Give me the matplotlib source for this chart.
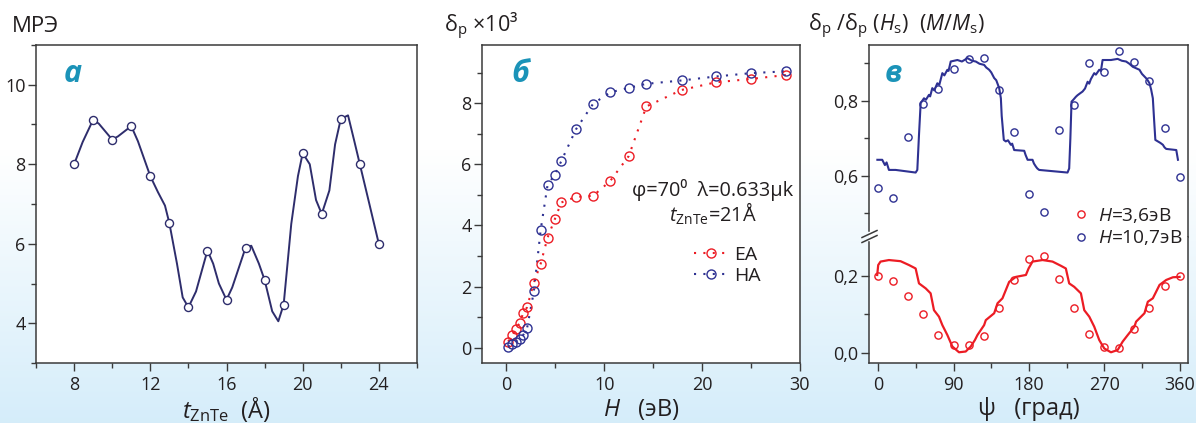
import numpy as np
import matplotlib
matplotlib.use('Agg')
import matplotlib.pyplot as plt
from matplotlib.lines import Line2D
from matplotlib.ticker import FixedLocator

plt.rcParams['font.family'] = ['Open Sans', 'DejaVu Sans']
plt.rcParams['mathtext.fontset'] = 'custom'
plt.rcParams['mathtext.rm'] = 'Open Sans'
plt.rcParams['mathtext.it'] = 'Open Sans:italic'
plt.rcParams['mathtext.bf'] = 'Open Sans:bold'

# ---------------- data ----------------
# panel a: MRE vs ZnTe thickness
a_t = [8, 9, 10, 11, 12, 13, 14, 15, 16, 17, 18, 19, 20, 21, 22, 23, 24]
a_mre = [8.0, 9.12, 8.62, 8.96, 7.70, 6.52, 4.40, 5.83, 4.59, 5.90, 5.09, 4.47,
         8.28, 6.75, 9.14, 8.0, 5.99]
a_line_t = [8, 8.45, 9, 9.3, 10, 10.3, 11, 11.35, 12, 12.4, 12.77, 13, 13.4, 13.7,
            14, 14.4, 15, 15.3, 15.6, 16, 16.3, 17, 17.3, 17.7, 18, 18.4, 18.72,
            19, 19.4, 19.75, 20, 20.37, 20.7, 21, 21.4, 21.7, 22, 22.38, 22.7, 23,
            23.5, 24]
a_line_mre = [8.0, 8.56, 9.12, 9.02, 8.62, 8.70, 8.96, 8.58, 7.70, 7.30, 6.96, 6.52,
              5.5, 4.65, 4.40, 4.80, 5.83, 5.50, 5.00, 4.59, 4.90, 5.90, 5.95, 5.50,
              5.09, 4.30, 4.05, 4.47, 6.5, 7.7, 8.28, 8.0, 7.1, 6.75, 7.34, 8.5,
              9.14, 9.23, 8.6, 8.0, 7.0, 5.99]

# panel b: delta_p x 10^3 vs H
b_H = [0.17, 0.6, 0.95, 1.36, 1.7, 2.1, 2.8, 3.5, 4.2, 4.94, 5.6, 7.1, 8.86,
       10.6, 12.5, 14.3, 17.9, 21.4, 25.0, 28.6]
b_EA = [0.20, 0.41, 0.60, 0.82, 1.12, 1.32, 2.13, 2.75, 3.60, 4.20, 4.75, 4.93,
        4.97, 5.45, 6.27, 7.89, 8.43, 8.68, 8.79, 8.92]
b_HA = [0.03, 0.11, 0.20, 0.27, 0.41, 0.63, 1.84, 3.86, 5.32, 5.66, 6.10, 7.14,
        7.98, 8.35, 8.50, 8.63, 8.74, 8.87, 8.98, 9.04]

# panel c: normalized delta_p vs psi
c_psi = [0, 18, 36, 54, 72, 90, 108, 126, 144, 162, 180, 198, 216, 234, 252,
         270, 288, 306, 324, 342, 360]
c_low = [0.200, 0.187, 0.149, 0.101, 0.045, 0.020, 0.020, 0.044, 0.116, 0.191,
         0.245, 0.252, 0.193, 0.116, 0.050, 0.016, 0.011, 0.061, 0.117, 0.175, 0.200]
c_high = [0.569, 0.541, 0.705, 0.792, 0.832, 0.885, 0.913, 0.914, 0.828, 0.716,
          0.553, 0.504, 0.722, 0.788, 0.901, 0.878, 0.933, 0.905, 0.852, 0.727, 0.598]

c_high_line_x = [-1, 4.8, 8, 10, 12.8, 20.8, 44.7, 46.7, 48.7, 50.7, 54.7, 57, 60.6,
                 62, 64.6, 67, 70.6, 73, 76.6, 79, 82.6, 84, 86.6, 94.6, 100, 106.6,
                 112, 116.5, 121, 126.5, 129, 132.5, 135, 138.5, 141, 144.5, 146.5,
                 147.5, 150, 152.4, 155, 158.4, 160, 162.4, 174.4, 176, 178.4, 180.3,
                 184.3, 186, 188.3, 190, 192.2, 226.1, 228.1, 229.5, 230.9, 233,
                 236.1, 238, 241, 244.1, 247, 250.1, 252, 254, 258, 260, 264, 266,
                 268, 278, 286, 291, 296, 300, 304, 307, 312, 315, 318, 321, 324,
                 326, 328, 329.5, 331, 334, 337, 340, 342, 344, 356, 358]
c_high_line_y = [0.643, 0.643, 0.629, 0.636, 0.616, 0.616, 0.609, 0.616, 0.709, 0.794,
                 0.807, 0.803, 0.816, 0.812, 0.834, 0.828, 0.847, 0.843, 0.874, 0.868,
                 0.883, 0.880, 0.905, 0.909, 0.905, 0.914, 0.907, 0.905, 0.899, 0.896,
                 0.889, 0.883, 0.876, 0.861, 0.855, 0.834, 0.807, 0.760, 0.696, 0.692,
                 0.695, 0.683, 0.686, 0.669, 0.667, 0.656, 0.643, 0.643, 0.643, 0.633,
                 0.625, 0.620, 0.616, 0.609, 0.620, 0.700, 0.798, 0.803, 0.811, 0.815,
                 0.820, 0.825, 0.833, 0.851, 0.846, 0.858, 0.874, 0.870, 0.883, 0.880,
                 0.909, 0.909, 0.912, 0.907, 0.905, 0.899, 0.891, 0.888, 0.883, 0.872,
                 0.865, 0.858, 0.847, 0.830, 0.807, 0.750, 0.696, 0.692, 0.688, 0.683,
                 0.676, 0.672, 0.669, 0.643]

c_low_line_x = [-1.2, 0, 2.8, 12.8, 26.7, 36.7, 44.7, 48.7, 56.7, 62.6, 66.6, 72.6,
                76.6, 82.6, 88.6, 96.5, 104.5, 110.5, 115.5, 118.5, 126.5, 128.5,
                138.5, 142.5, 148.4, 156.4, 164.4, 176.4, 179.6, 184.3, 196.2, 208.2,
                218.2, 224.1, 228.1, 234.1, 242.1, 246.1, 252.1, 258, 264, 270, 278,
                286, 292, 298, 306, 308, 318, 322, 328, 336, 344, 352, 360]
c_low_line_y = [0.203, 0.229, 0.238, 0.242, 0.239, 0.229, 0.220, 0.181, 0.168, 0.155,
                0.111, 0.094, 0.072, 0.046, 0.016, 0.001, 0.003, 0.016, 0.033, 0.046,
                0.072, 0.085, 0.103, 0.129, 0.142, 0.185, 0.198, 0.203, 0.220, 0.238,
                0.242, 0.238, 0.227, 0.220, 0.181, 0.172, 0.155, 0.111, 0.094, 0.068,
                0.033, 0.011, 0.001, 0.007, 0.029, 0.046, 0.068, 0.081, 0.103, 0.133,
                0.142, 0.177, 0.190, 0.197, 0.198]

# ---------------- style ----------------
W, H = 1196, 423
NAVY = '#2e2d6c'
BLUE = '#2e3192'
RED = '#ec1c24'
TEAL = '#1b93b8'
SPINE = '#3a3a3a'
TXT = '#231f20'

fig = plt.figure(figsize=(W / 100, H / 100), dpi=100)

# background gradient
bg = fig.add_axes([0, 0, 1, 1], zorder=-10)
rows = np.arange(H)
t = np.clip((rows - 150) / (H - 150), 0, 1)[:, None]
top = np.array([1.0, 1.0, 1.0])
bot = np.array([0.835, 0.929, 0.980])
grad = (top * (1 - t) + bot * t)[:, None, :]
grad = np.repeat(grad, 4, axis=1)
bg.imshow(grad, extent=[0, 1, 0, 1], aspect='auto', origin='upper')
bg.axis('off')


def rect(l, tp, r, b):
    return [l / W, 1 - b / H, (r - l) / W, (b - tp) / H]


def style(ax):
    ax.set_facecolor('white')
    for s in ax.spines.values():
        s.set_color(SPINE)
        s.set_linewidth(1.1)
    ax.tick_params(which='both', direction='out', color=SPINE, width=1.0,
                   labelsize=13, labelcolor=TXT, pad=2)
    ax.tick_params(axis='x', which='both', pad=4)
    ax.tick_params(which='major', length=5.5)
    ax.tick_params(which='minor', length=3.5)


# ---------------- panel a ----------------
axa = fig.add_axes(rect(36, 45, 417, 363))
style(axa)
axa.plot(a_line_t, a_line_mre, color=NAVY, lw=1.4, zorder=2)
axa.plot(a_t, a_mre, 'o', ms=5.8, mfc='white', mec=NAVY, mew=1.0, zorder=3)
axa.set_xlim(6, 26)
axa.set_ylim(3, 11)
axa.xaxis.set_major_locator(FixedLocator([8, 12, 16, 20, 24]))
axa.xaxis.set_minor_locator(FixedLocator([6, 10, 14, 18, 22, 26]))
axa.yaxis.set_major_locator(FixedLocator([4, 6, 8, 10]))
axa.yaxis.set_minor_locator(FixedLocator([3, 5, 7, 9, 11]))
axa.text(0.097, 0.884, 'а', transform=axa.transAxes, ha='center', va='baseline',
         fontsize=22, fontweight='bold', fontstyle='italic', color=TEAL)

# ---------------- panel b ----------------
axb = fig.add_axes(rect(482, 45, 800, 363))
style(axb)
dots = (0, (1, 3.5))
axb.plot(b_H, b_EA, color=RED, lw=1.5, ls=dots, zorder=2)
axb.plot(b_H, b_HA, color=BLUE, lw=1.5, ls=dots, zorder=2)
axb.plot(b_H, b_EA, 'o', ms=6.5, mfc='none', mec=RED, mew=1.0, zorder=3)
axb.plot(b_H, b_HA, 'o', ms=6.5, mfc='none', mec=BLUE, mew=1.0, zorder=3)
axb.set_xlim(-2.5, 30)
axb.set_ylim(-0.5, 9.9)
axb.xaxis.set_major_locator(FixedLocator([0, 10, 20, 30]))
axb.xaxis.set_minor_locator(FixedLocator([5, 15, 25]))
axb.yaxis.set_major_locator(FixedLocator([0, 2, 4, 6, 8]))
axb.yaxis.set_minor_locator(FixedLocator([1, 3, 5, 7, 9]))
axb.text(0.119, 0.884, 'б', transform=axb.transAxes, ha='center', va='baseline',
         fontsize=22, fontweight='bold', fontstyle='italic', color=TEAL)
fig.text(713 / W, 1 - 190 / H, 'φ=70⁰  λ=0.633μk', ha='center', va='center',
         fontsize=14.3, color=TXT)
fig.text(713 / W, 1 - 214 / H, r'$\mathit{t}_{\mathregular{ZnTe}}$=21Å', ha='center',
         va='center', fontsize=14.3, color=TXT)
hEA = Line2D([], [], color=RED, lw=1.5, ls=dots, marker='o', ms=6.5, mfc='none',
             mec=RED, mew=1.0)
hHA = Line2D([], [], color=BLUE, lw=1.5, ls=dots, marker='o', ms=6.5, mfc='none',
             mec=BLUE, mew=1.0)
fig.legend([hEA, hHA], ['EA', 'HA'], loc='upper left',
           bbox_to_anchor=(684 / W, 1 - 236 / H), frameon=False, fontsize=14,
           handlelength=1.8, handletextpad=0.3, labelspacing=0.15, borderpad=0,
           labelcolor=TXT)

# ---------------- panel c ----------------
axu = fig.add_axes(rect(869, 45, 1188, 236.7))
axl = fig.add_axes(rect(869, 236.7, 1188, 363))
for ax in (axu, axl):
    style(ax)
    ax.set_xlim(-11, 370)
axu.set_ylim(0.438, 0.949)
axl.set_ylim(-0.027, 0.303)
axu.spines['bottom'].set_visible(False)
axl.spines['top'].set_visible(False)
axu.spines['left'].set_bounds(0.452, 0.949)
axl.spines['left'].set_bounds(-0.027, 0.29)
axu.tick_params(axis='x', which='both', bottom=False, labelbottom=False)
axu.yaxis.set_major_locator(FixedLocator([0.6, 0.8]))
axu.yaxis.set_minor_locator(FixedLocator([0.5, 0.7, 0.9]))
axu.set_yticklabels(['0,6', '0,8'])
axl.yaxis.set_major_locator(FixedLocator([0.0, 0.2]))
axl.yaxis.set_minor_locator(FixedLocator([0.1]))
axl.set_yticklabels(['0,0', '0,2'])
axl.xaxis.set_major_locator(FixedLocator([0, 90, 180, 270, 360]))
axl.xaxis.set_minor_locator(FixedLocator([45, 135, 225, 315]))

axu.plot(c_high_line_x, c_high_line_y, color=BLUE, lw=1.5, zorder=2)
axu.plot(c_psi, c_high, 'o', ms=5.2, mfc='none', mec=BLUE, mew=1.0, zorder=3)
axl.plot(c_low_line_x, c_low_line_y, color=RED, lw=1.6, zorder=2)
axl.plot(c_psi, c_low, 'o', ms=5.2, mfc='none', mec=RED, mew=1.0, zorder=3)
axu.text(0.075, 0.807, 'в', transform=axu.transAxes, ha='center', va='baseline',
         fontsize=22, fontweight='bold', fontstyle='italic', color=TEAL)

# break marks
for dy in (-2.5, 2.5):
    fig.add_artist(Line2D([862 / W, 877 / W],
                          [1 - (240 + dy) / H, 1 - (233 + dy) / H],
                          transform=fig.transFigure, color=SPINE, lw=1.1))

hL = Line2D([], [], ls='none', marker='o', ms=5.2, mfc='none', mec=RED, mew=1.0)
hHc = Line2D([], [], ls='none', marker='o', ms=5.2, mfc='none', mec=BLUE, mew=1.0)
fig.legend([hL, hHc], [r'$\mathit{H}$=3,6эВ', r'$\mathit{H}$=10,7эВ'],
           loc='upper left', bbox_to_anchor=(1064 / W, 1 - 196 / H), frameon=False,
           fontsize=13.8, handlelength=0.8, handletextpad=0.45, labelspacing=0.2,
           borderpad=0, labelcolor=TXT)

# ---------------- axis labels ----------------
fig.text(12 / W, 1 - 26 / H, 'МРЭ', ha='left', va='center', fontsize=16, color=TXT)
fig.text(444 / W, 1 - 26 / H, r'$\mathregular{δ_p}$ ×10³', ha='left', va='center',
         fontsize=15.5, color=TXT)
fig.text(808 / W, 1 - 26 / H,
         r'$\mathregular{δ_p}$ /$\mathregular{δ_p}$ ($\mathit{H}_\mathregular{s}$)  '
         r'($\mathit{M}$/$\mathit{M}_\mathregular{s}$)',
         ha='left', va='center', fontsize=15.5, color=TXT)
fig.text(226.5 / W, 1 - 409 / H, r'$\mathit{t}_{\mathregular{ZnTe}}$  (Å)', ha='center',
         va='center', fontsize=17, color=TXT)
fig.text(641 / W, 1 - 409 / H, r'$\mathit{H}$   (эВ)', ha='center', va='center',
         fontsize=17, color=TXT)
fig.text(1028.5 / W, 1 - 409 / H, 'ψ   (град)', ha='center', va='center',
         fontsize=17, color=TXT)

fig.savefig('out.png', dpi=100)
